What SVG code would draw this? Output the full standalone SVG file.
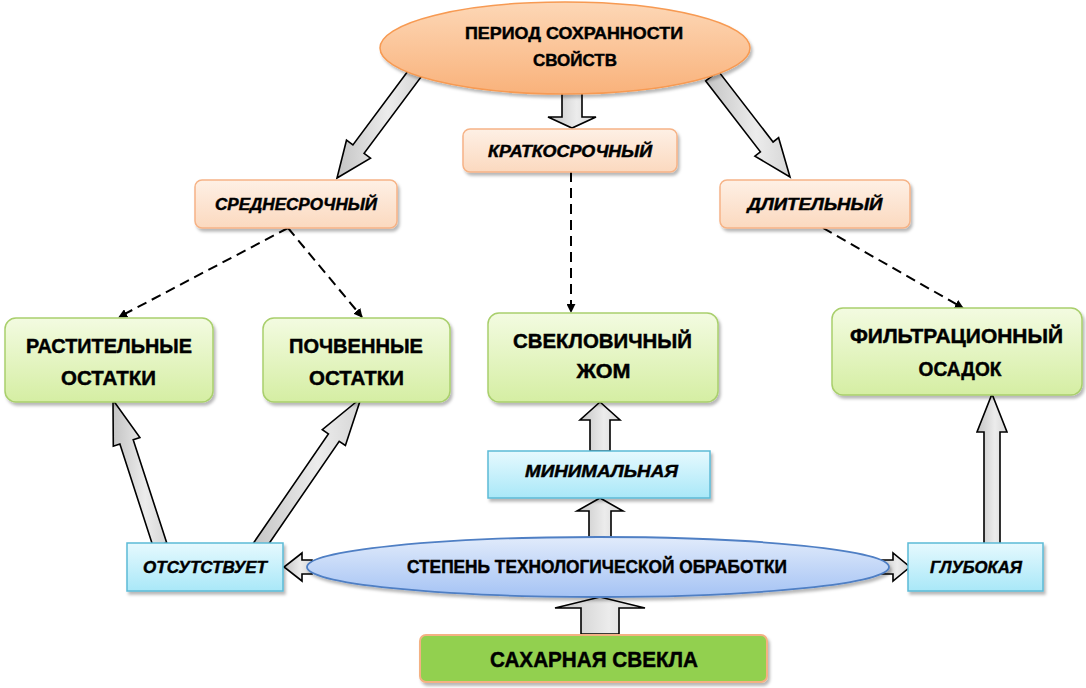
<svg xmlns="http://www.w3.org/2000/svg" width="1086" height="688" viewBox="0 0 1086 688">
<defs>
<linearGradient id="gArrow" x1="0" y1="0" x2="1" y2="0">
<stop offset="0" stop-color="#c4c4c4"/><stop offset="0.6" stop-color="#ececec"/><stop offset="1" stop-color="#d6d6d6"/>
</linearGradient>
<linearGradient id="gOrange" x1="0" y1="0" x2="0" y2="1">
<stop offset="0" stop-color="#fdd7b6"/><stop offset="1" stop-color="#f9b27b"/>
</linearGradient>
<linearGradient id="gPeach" x1="0" y1="0" x2="0" y2="1">
<stop offset="0" stop-color="#fef0e5"/><stop offset="1" stop-color="#fbd9bf"/>
</linearGradient>
<linearGradient id="gGreen" x1="0" y1="0" x2="0" y2="1">
<stop offset="0" stop-color="#f3fbe1"/><stop offset="1" stop-color="#d5eea3"/>
</linearGradient>
<linearGradient id="gCyan" x1="0" y1="0" x2="0" y2="1">
<stop offset="0" stop-color="#e6f9fe"/><stop offset="1" stop-color="#a9e8f8"/>
</linearGradient>
<linearGradient id="gBlue" x1="0" y1="0" x2="0" y2="1">
<stop offset="0" stop-color="#e1ebfb"/><stop offset="1" stop-color="#a5c3f4"/>
</linearGradient>
<filter id="sh" x="-10%" y="-10%" width="130%" height="140%">
<feDropShadow dx="2" dy="3" stdDeviation="1.8" flood-color="#000" flood-opacity="0.28"/>
</filter>
<marker id="ah" viewBox="0 0 10 10" refX="9" refY="5" markerWidth="9" markerHeight="9" markerUnits="userSpaceOnUse" orient="auto">
<path d="M0,0 L10,5 L0,10 z" fill="#000"/>
</marker>
<style>
.blk{fill:url(#gArrow);stroke:#000;stroke-width:1.6;stroke-linejoin:miter}
.dash{fill:none;stroke:#000;stroke-width:2;stroke-dasharray:10 6;marker-end:url(#ah)}
.t{font-family:"Liberation Sans",Arial,sans-serif;font-weight:bold;fill:#000;stroke:#000;stroke-width:0.45;text-anchor:middle}
.i{font-style:italic}
.orange{fill:url(#gOrange);stroke:#f79a52;stroke-width:1.5;filter:url(#sh)}
.peach{fill:url(#gPeach);stroke:#f6b386;stroke-width:1.5;filter:url(#sh)}
.green{fill:url(#gGreen);stroke:#a9cf6c;stroke-width:1.5;filter:url(#sh)}
.cyan{fill:url(#gCyan);stroke:#5cbad6;stroke-width:1.5;filter:url(#sh)}
.blue{fill:url(#gBlue);stroke:#4f7fc4;stroke-width:1.8;filter:url(#sh)}
.sugar{fill:#92d050;stroke:#f4b183;stroke-width:2;filter:url(#sh)}
</style>
</defs>
<rect width="1086" height="688" fill="#fff"/>
<g id="connectors">
<polygon class="blk" points="410.4,67.8 352.9,144.9 346.5,140.2 337,178 370.5,158.1 364.1,153.3 421.6,76.2"/>
<polygon class="blk" points="705.7,80.9 760.4,151.8 754.9,156.1 790,177 778.6,137.7 773.1,142 718.3,71.1"/>
<polygon class="blk" points="562,92 582,92 582,117 596,117 572,128 548,117 562,117"/>
<polygon class="blk" points="166.7,542.8 133.2,439.7 139.9,437.6 113,400 113.3,446.2 119.9,444 153.3,547.2"/>
<polygon class="blk" points="263.4,551.7 339.2,441.3 345.4,445.5 361,398 322.3,429.7 328.4,433.9 252.6,544.3"/>
<polygon class="blk" points="590,451 590,420 580,420 600,402 620,420 610,420 610,451"/>
<polygon class="blk" points="589,542 589,511 577,511 600,498 623,511 611,511 611,542"/>
<polygon class="blk" points="581,634 581,608 555,608 600,597 645,608 619,608 619,634"/>
<polygon class="blk" points="312,560 302,560 302,553 284,567 302,581 302,574 312,574"/>
<polygon class="blk" points="878,560 893,560 893,553 910,567 893,581 893,574 878,574"/>
<polygon class="blk" points="984,545 984,432 977,432 992,394 1007,432 1000,432 1000,545"/>
<line class="dash" x1="288" y1="228" x2="119" y2="317"/>
<line class="dash" x1="288" y1="228" x2="362" y2="317"/>
<line class="dash" x1="571" y1="172" x2="571" y2="312"/>
<line class="dash" x1="823" y1="228" x2="963" y2="308"/>
</g>
<g id="node-period">
<ellipse class="orange" cx="565" cy="48" rx="185" ry="46"/>
<text class="t" x="574" y="39" font-size="17" textLength="218" lengthAdjust="spacingAndGlyphs">ПЕРИОД СОХРАННОСТИ</text>
<text class="t" x="575" y="66" font-size="17" textLength="84" lengthAdjust="spacingAndGlyphs">СВОЙСТВ</text>
</g>
<g id="node-short">
<rect class="peach" x="463" y="129" width="214" height="43" rx="7"/>
<text class="t i" x="570" y="157" font-size="16" textLength="164" lengthAdjust="spacingAndGlyphs">КРАТКОСРОЧНЫЙ</text>
</g>
<g id="node-medium">
<rect class="peach" x="195" y="180" width="202" height="48" rx="7"/>
<text class="t i" x="296" y="210" font-size="16" textLength="162" lengthAdjust="spacingAndGlyphs">СРЕДНЕСРОЧНЫЙ</text>
</g>
<g id="node-long">
<rect class="peach" x="720" y="180" width="190" height="48" rx="7"/>
<text class="t i" x="815" y="210" font-size="16" textLength="135" lengthAdjust="spacingAndGlyphs">ДЛИТЕЛЬНЫЙ</text>
</g>
<g id="node-plant">
<rect class="green" x="5" y="318" width="208" height="84" rx="11"/>
<text class="t" x="109" y="353" font-size="21" textLength="166" lengthAdjust="spacingAndGlyphs">РАСТИТЕЛЬНЫЕ</text>
<text class="t" x="108.5" y="385" font-size="21" textLength="95" lengthAdjust="spacingAndGlyphs">ОСТАТКИ</text>
</g>
<g id="node-soil">
<rect class="green" x="263" y="318" width="187" height="84" rx="11"/>
<text class="t" x="356" y="353" font-size="21" textLength="134" lengthAdjust="spacingAndGlyphs">ПОЧВЕННЫЕ</text>
<text class="t" x="356.5" y="385" font-size="21" textLength="95" lengthAdjust="spacingAndGlyphs">ОСТАТКИ</text>
</g>
<g id="node-pulp">
<rect class="green" x="488" y="313" width="230" height="89" rx="11"/>
<text class="t" x="602.5" y="348" font-size="21" textLength="179" lengthAdjust="spacingAndGlyphs">СВЕКЛОВИЧНЫЙ</text>
<text class="t" x="603.5" y="378" font-size="21" textLength="54" lengthAdjust="spacingAndGlyphs">ЖОМ</text>
</g>
<g id="node-filter">
<rect class="green" x="832" y="308" width="250" height="87" rx="11"/>
<text class="t" x="956.5" y="343" font-size="21" textLength="213" lengthAdjust="spacingAndGlyphs">ФИЛЬТРАЦИОННЫЙ</text>
<text class="t" x="960" y="376" font-size="21" textLength="83" lengthAdjust="spacingAndGlyphs">ОСАДОК</text>
</g>
<g id="node-minimal">
<rect class="cyan" x="488" y="451" width="222" height="47"/>
<text class="t i" x="601.5" y="477" font-size="17" textLength="153" lengthAdjust="spacingAndGlyphs">МИНИМАЛЬНАЯ</text>
</g>
<g id="node-degree">
<ellipse class="blue" cx="598" cy="567" rx="291" ry="30"/>
<text class="t" x="597" y="573" font-size="18" textLength="380" lengthAdjust="spacingAndGlyphs">СТЕПЕНЬ ТЕХНОЛОГИЧЕСКОЙ ОБРАБОТКИ</text>
</g>
<g id="node-absent">
<rect class="cyan" x="127" y="543" width="156" height="48"/>
<text class="t i" x="205" y="573" font-size="17" textLength="124" lengthAdjust="spacingAndGlyphs">ОТСУТСТВУЕТ</text>
</g>
<g id="node-deep">
<rect class="cyan" x="908" y="543" width="135" height="48"/>
<text class="t i" x="976" y="573" font-size="17" textLength="92" lengthAdjust="spacingAndGlyphs">ГЛУБОКАЯ</text>
</g>
<g id="node-beet">
<rect class="sugar" x="420" y="635" width="347" height="47" rx="6"/>
<text class="t" x="594" y="667" font-size="22" textLength="208" lengthAdjust="spacingAndGlyphs">САХАРНАЯ СВЕКЛА</text>
</g>
</svg>
